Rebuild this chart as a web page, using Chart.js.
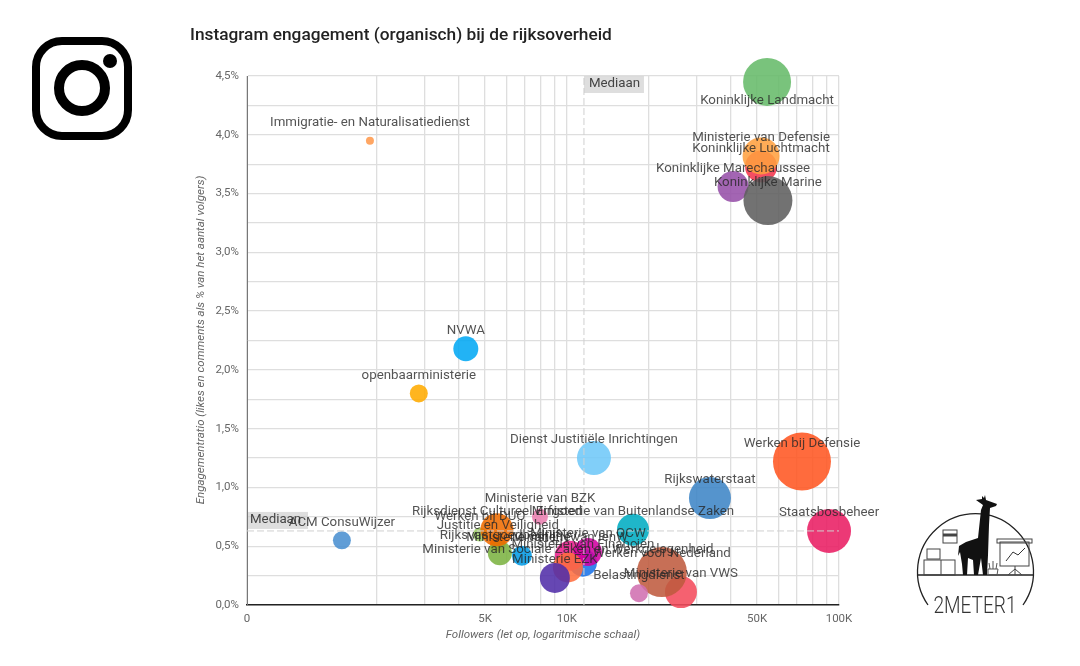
<!DOCTYPE html>
<html>
<head>
<meta charset="utf-8">
<script src="https://cdn.jsdelivr.net/npm/chart.js@4"></script>
<style>
  html, body { margin: 0; padding: 0; background: #fff; }
  #wrap { position: relative; width: 1080px; height: 666px; overflow: hidden; font-family: Roboto, sans-serif; }
  #title { position: absolute; left: 190px; top: 24px; font-size: 17.3px; font-weight: 500; color: #222; }
  canvas { position: absolute; left: 0; top: 0; }
  svg { position: absolute; }
</style>
</head>
<body>
<div id="wrap">
  <canvas id="bubbleChart" width="1080" height="666"></canvas>
  <div id="title">Instagram engagement (organisch) bij de rijksoverheid</div>
  <svg style="left:28px;top:33px" width="108" height="111" viewBox="0 0 108 111">
    <rect x="8" y="8" width="92" height="95" rx="26" fill="none" stroke="#000" stroke-width="8"/>
    <circle cx="54" cy="55" r="23" fill="none" stroke="#000" stroke-width="10"/>
    <circle cx="82" cy="28" r="7" fill="#000"/>
  </svg>
  <svg style="left:900px;top:480px" width="160" height="160" viewBox="0 0 160 160">
    <path d="M28 125 A58 58 0 1 1 123 125" fill="none" stroke="#222" stroke-width="1.3"/>
    <line x1="17" y1="95" x2="134" y2="95" stroke="#222" stroke-width="1.3"/>
    <path d="M76 20 L82 19 L82 16 L84 18 L85 15 L86 20 L97 24 L96 26 L90 28 L89 45 L88 75 L87 95 L83 95 L81 78 L78 95 L74 95 L73 80 L68 78 L67 95 L63 95 L62 84 L60 72 L58 76 L59 66 L66 62 L78 58 L81 30 L83 25 Z" fill="#111"/>
    <rect x="43" y="50" width="14" height="13" fill="none" stroke="#444"/>
    <line x1="43" y1="55" x2="57" y2="55" stroke="#444" stroke-width="3"/>
    <rect x="27" y="69" width="13" height="10" fill="none" stroke="#444"/>
    <rect x="24" y="80" width="31" height="15" fill="none" stroke="#444"/>
    <line x1="41" y1="80" x2="41" y2="95" stroke="#444"/>
    <rect x="100" y="62" width="29" height="24" fill="none" stroke="#444"/>
    <rect x="97" y="59" width="35" height="4" fill="none" stroke="#444"/>
    <polyline points="106,81 113,72 118,75 125,68" fill="none" stroke="#333"/>
    <path d="M115 86 L115 95 M108 95 L115 89 L122 95" fill="none" stroke="#444"/>
    <path d="M88 95 L88 89 L98 89 L97 95 Z M93 89 L93 81 M90 89 L89 83 M96 89 L97 83" fill="none" stroke="#555"/>
    <text x="75" y="133" text-anchor="middle" font-family="Roboto, sans-serif" font-weight="300" font-size="24" textLength="83" lengthAdjust="spacingAndGlyphs" fill="#333">2METER1</text>
  </svg>
</div>
<script>
const names = [
  "Koninklijke Landmacht", "Koninklijke Luchtmacht", "Ministerie van Defensie", "Koninklijke Marechaussee",
  "Koninklijke Marine", "Immigratie- en Naturalisatiedienst", "NVWA", "openbaarministerie",
  "Dienst Justitiële Inrichtingen", "Werken bij Defensie", "Rijkswaterstaat", "Staatsbosbeheer",
  "ACM ConsuWijzer", "Ministerie van BZK", "Justitie en Veiligheid", "Werken bij DUO",
  "Rijksvastgoedbedrijf", "Rijksdienst Cultureel Erfgoed", "Ministerie van Buitenlandse Zaken", "Ministerie van LNV",
  "Ministerie van Financiën", "Ministerie van IenW", "Ministerie van OCW", "Ministerie van Sociale Zaken en Werkgelegenheid",
  "Ministerie EZK", "Ministerie van VWS", "Werken voor Nederland", "Belastingdienst"
];
const followers = [
  54400, 51700, 51700, 40800, 54800, 1888, 4250, 2855,
  12570, 73100, 33550, 91900,
  1489, 7960, 5575, 4790,
  5670, 5530, 17490, 6830,
  11450, 10257, 11945, 10085,
  9030, 26240, 22340, 18400
];
const engagement = [
  4.45, 3.73, 3.82, 3.56, 3.44, 3.95, 2.18, 1.80,
  1.25, 1.22, 0.91, 0.63,
  0.55, 0.75, 0.52, 0.60,
  0.44, 0.64, 0.64, 0.42,
  0.36, 0.42, 0.45, 0.32,
  0.23, 0.11, 0.28, 0.10
];
const sizes = [
  24, 16, 18.5, 15.5, 24.5, 4, 12.5, 9,
  17, 29, 21, 22,
  9, 8, 8, 7,
  12, 16.5, 16, 10,
  14, 15, 14, 15,
  15, 16, 25, 9
];
const colors = [
  "#66bb6a", "#f4364c", "#ffa040", "#9650a8", "#5f5f5f", "#ff9a4d", "#03a9f4", "#ffab00",
  "#70c8f8", "#ff5722", "#3d85c6", "#e91e63",
  "#4a90d0", "#ea80b0", "#ef6c00", "#9ccc65",
  "#7cb342", "#ef6c00", "#00acc1", "#039be5",
  "#1a73e8", "#e91e8c", "#d000a0", "#ff6e40",
  "#512da8", "#f44b5c", "#bf5b3f", "#d070b0"
];
const yTicks = [0, 0.25, 0.5, 0.75, 1, 1.25, 1.5, 1.75, 2, 2.25, 2.5, 2.75, 3, 3.25, 3.5, 3.75, 4, 4.25, 4.5];
const xGrid = [667, 2000, 3000, 4000, 5000, 6000, 7000, 8000, 9000, 10000, 20000, 30000, 40000, 50000, 60000, 70000, 80000, 90000, 100000];
const xLabels = { 667: "0", 5000: "5K", 10000: "10K", 50000: "50K", 100000: "100K" };
const medianFollowers = 11550;
const medianEngagement = 0.63;

const labelPlugin = {
  id: "bubbleLabels",
  afterDatasetsDraw(chart) {
    const ctx = chart.ctx, xs = chart.scales.x, ys = chart.scales.y;
    ctx.save();
    ctx.font = "13.3px Roboto, sans-serif";
    ctx.textBaseline = "middle";
    // mediaan tags
    ctx.fillStyle = "rgba(200,200,200,0.6)";
    ctx.fillRect(xs.getPixelForValue(medianFollowers), 76, 60, 17);
    ctx.fillRect(xs.left + 1, ys.getPixelForValue(medianEngagement) - 19, 60, 17);
    ctx.fillStyle = "#444";
    ctx.textAlign = "left";
    ctx.fillText("Mediaan", xs.getPixelForValue(medianFollowers) + 5, 84);
    ctx.fillText("Mediaan", xs.left + 3, ys.getPixelForValue(medianEngagement) - 11);
    // labels boven de bubbels
    ctx.textAlign = "center";
    ctx.fillStyle = "rgba(40,40,40,0.8)";
    names.forEach((n, i) => {
      const offset = n === "Koninklijke Landmacht" ? 19 : -18;
      ctx.fillText(n, xs.getPixelForValue(followers[i]), ys.getPixelForValue(engagement[i]) + offset);
    });
    ctx.restore();
  }
};

new Chart("bubbleChart", {
  data: {
    datasets: [
      {
        type: "line",
        data: [{ x: 667, y: medianEngagement }, { x: 100000, y: medianEngagement }],
        borderColor: "#d0d0d0", borderWidth: 1, borderDash: [7, 3], pointRadius: 0,
      },
      {
        type: "line",
        data: [{ x: medianFollowers, y: 0 }, { x: medianFollowers, y: 4.5 }],
        borderColor: "#d0d0d0", borderWidth: 1, borderDash: [7, 3], pointRadius: 0,
      },
      {
        type: "bubble",
        data: names.map((n, i) => ({ x: followers[i], y: engagement[i], r: sizes[i] })),
        backgroundColor: colors.map((c) => c + "e0"),
        borderWidth: 0,
        clip: false,
      },
    ],
  },
  options: {
    responsive: false,
    animation: false,
    layout: { padding: { left: 0, right: 241, top: 76, bottom: 20 } },
    plugins: { legend: { display: false }, tooltip: { enabled: false } },
    scales: {
      x: {
        type: "logarithmic",
        min: 667,
        max: 100000,
        afterBuildTicks(axis) { axis.ticks = xGrid.map((v) => ({ value: v })); },
        afterFit(axis) { axis.height = 41; },
        grid: { color: "#dedede", lineWidth: 1.3, drawTicks: false },
        border: { color: "#222", width: 1.5 },
        ticks: {
          autoSkip: false, maxRotation: 0, color: "#666", font: { size: 11.5, family: "Roboto" }, padding: 7,
          callback(v) { return xLabels[v] || ""; },
        },
        title: { display: true, text: "Followers (let op, logaritmische schaal)", color: "#666", font: { size: 11.5, style: "italic", family: "Roboto" }, padding: { top: 6 } },
      },
      y: {
        min: 0,
        max: 4.5,
        afterBuildTicks(axis) { axis.ticks = yTicks.map((v) => ({ value: v })); },
        afterFit(axis) { axis.width = 247; },
        grid: { color: "#dedede", lineWidth: 1.3, drawTicks: false },
        border: { color: "#777", width: 1 },
        ticks: {
          autoSkip: false, color: "#666", font: { size: 11.5, family: "Roboto" }, padding: 8,
          callback(v) { return v * 2 === Math.round(v * 2) ? v.toFixed(1).replace(".", ",") + "%" : ""; },
        },
      },
    },
  },
  plugins: [labelPlugin],
});

// y-as titel los, staat vlak naast de ticks
const c = document.getElementById("bubbleChart").getContext("2d");
c.save();
c.translate(204, 340);
c.rotate(-Math.PI / 2);
c.font = "italic 11.5px Roboto, sans-serif";
c.fillStyle = "#666";
c.textAlign = "center";
c.fillText("Engagementratio (likes en comments als % van het aantal volgers)", 0, 0);
c.restore();
</script>
</body>
</html>
